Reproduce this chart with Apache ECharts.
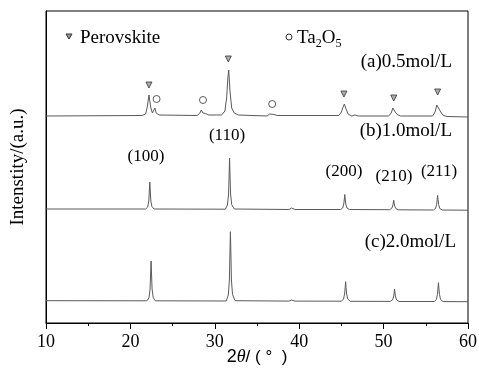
<!DOCTYPE html>
<html>
<head>
<meta charset="utf-8">
<script src="https://cdn.jsdelivr.net/npm/echarts@6/dist/echarts.min.js"></script>
<style>
  html, body { margin: 0; padding: 0; background: #fff; }
  #chart { width: 479px; height: 373px; }
</style>
</head>
<body>
<div id="chart"></div>
<script>
// XRD traces, [2theta, intensity] — intensity in arbitrary units, offset per sample
const trace05 = [
  [10, 207], [21.4, 207.5], [21.8, 209], [22.0, 216], [22.2, 228], [22.4, 216], [22.6, 210],
  [22.75, 212], [22.9, 215], [23.05, 210], [23.4, 208], [27.9, 207.5], [28.2, 209.5], [28.4, 213],
  [28.6, 210], [28.9, 209.5], [29.3, 208], [30.8, 208], [31.2, 212], [31.4, 225], [31.55, 245],
  [31.65, 253], [31.8, 232], [32.0, 215], [32.3, 210], [32.8, 208], [36.2, 207], [36.5, 209],
  [36.7, 211], [37.0, 208.5], [37.4, 207.5], [44.7, 207.5], [45.0, 211], [45.2, 216], [45.35, 219],
  [45.55, 214], [45.8, 209], [46.2, 207], [46.6, 208], [47.0, 207], [50.6, 207], [50.9, 210],
  [51.1, 215], [51.3, 212], [51.6, 208.5], [52.0, 207], [55.8, 207], [56.1, 211], [56.3, 218],
  [56.45, 219], [56.7, 212], [57.0, 208], [57.5, 206.5], [60, 206]
];
const trace10 = [
  [10, 114], [21.8, 114], [22.05, 116], [22.18, 122], [22.25, 133], [22.3, 141], [22.35, 133],
  [22.42, 122], [22.55, 116.5], [22.8, 114], [31.25, 113.8], [31.5, 118], [31.63, 129], [31.7, 149],
  [31.75, 165], [31.8, 149], [31.87, 129], [32.0, 118.5], [32.3, 114], [38.8, 113.5], [39.1, 115],
  [39.25, 115.5], [39.5, 113.5], [44.9, 113.5], [45.15, 115], [45.28, 119], [45.35, 124],
  [45.4, 128.5], [45.45, 124], [45.52, 119], [45.65, 115], [45.95, 113.5], [50.7, 113.3],
  [50.95, 114.5], [51.08, 117], [51.15, 120], [51.2, 122.8], [51.25, 120], [51.32, 117],
  [51.45, 114.5], [51.75, 113.2], [55.9, 113], [56.15, 114.5], [56.28, 118.5], [56.35, 123.5],
  [56.4, 127.7], [56.45, 123.5], [56.52, 118.5], [56.65, 114.5], [56.95, 113], [60, 112.8]
];
const trace20 = [
  [10, 22.3], [21.95, 22.2], [22.2, 25], [22.33, 34], [22.4, 50], [22.45, 62], [22.5, 50],
  [22.57, 34], [22.7, 25.5], [22.95, 22.2], [31.35, 22], [31.6, 28], [31.73, 43], [31.8, 72],
  [31.85, 91.3], [31.9, 72], [31.97, 43], [32.1, 28.5], [32.4, 22.3], [38.8, 21.9], [39.1, 23],
  [39.25, 23.5], [39.5, 21.9], [45.0, 21.8], [45.25, 24], [45.38, 29], [45.45, 35.5], [45.5, 41.3],
  [45.55, 35.5], [45.62, 29], [45.75, 24], [46.05, 21.7], [50.8, 21.6], [51.05, 23], [51.18, 26],
  [51.25, 30], [51.3, 34], [51.35, 30], [51.42, 26], [51.55, 23], [51.85, 21.5], [56.0, 21.5],
  [56.25, 23.5], [56.38, 28.5], [56.45, 35], [56.5, 40.3], [56.55, 35], [56.62, 28.5],
  [56.75, 23.5], [57.05, 21.4], [60, 21.3]
];

// phase markers above trace (a)
const perovskiteMarks = [[22.2, 238], [31.6, 264], [45.3, 229], [51.2, 225], [56.4, 231]];
const ta2o5Marks = [[23.1, 224], [28.6, 223], [36.8, 219]];

const xTicks = [10, 20, 30, 40, 50, 60];

const serif = 'Liberation Serif';
const chart = echarts.init(document.getElementById('chart'), null, { renderer: 'canvas' });

const lineStyle = { color: '#5a5a5a', width: 1 };

chart.setOption({
  animation: false,
  backgroundColor: '#fff',
  grid: {
    left: 46, right: 11, top: 11, bottom: 50, outerBoundsMode: 'none',
    show: true, borderColor: '#000', borderWidth: 1
  },
  xAxis: {
    type: 'value',
    min: xTicks[0],
    max: xTicks[xTicks.length - 1],
    interval: 10,
    name: '{n|2}{t|θ}{s|/ ( °  )}',
    nameLocation: 'middle',
    nameMoveOverlap: false,
    nameGap: 25,
    nameTextStyle: {
      rich: {
        n: { fontFamily: 'Liberation Sans', fontSize: 18, color: '#000' },
        t: { fontFamily: serif, fontStyle: 'italic', fontSize: 18, color: '#000' },
        s: { fontFamily: 'Liberation Sans', fontSize: 17, color: '#000' }
      }
    },
    axisLine: { lineStyle: { color: '#000', width: 1 } },
    axisTick: { inside: false, length: 6, lineStyle: { color: '#000' } },
    minorTick: { show: true, splitNumber: 2, length: 3, lineStyle: { color: '#000' } },
    axisLabel: { margin: 10, fontFamily: serif, fontSize: 18, color: '#000' },
    splitLine: { show: false }
  },
  yAxis: {
    type: 'value',
    min: 0,
    max: 312,
    name: 'Intenstity/(a.u.)',
    nameLocation: 'middle',
    nameMoveOverlap: false,
    nameGap: 18,
    nameTextStyle: { fontFamily: serif, fontSize: 19, color: '#000' },
    axisLine: { show: true, lineStyle: { color: '#000' } },
    axisTick: { show: false },
    axisLabel: { show: false },
    splitLine: { show: false }
  },
  series: [
    { type: 'line', data: trace05, showSymbol: false, lineStyle },
    { type: 'line', data: trace10, showSymbol: false, lineStyle },
    { type: 'line', data: trace20, showSymbol: false, lineStyle },
    {
      type: 'scatter', data: perovskiteMarks, symbol: 'triangle', symbolRotate: 180, symbolSize: 6,
      itemStyle: { color: '#999', borderColor: '#333', borderWidth: 1 }
    },
    {
      type: 'scatter', data: ta2o5Marks, symbol: 'circle', symbolSize: 7,
      itemStyle: { color: '#fff', borderColor: '#333', borderWidth: 1 }
    }
  ],
  graphic: [
    { type: 'polygon', shape: { points: [[66, 34], [72, 34], [69, 39]] },
      style: { fill: '#999', stroke: '#333', lineWidth: 1 } },
    { type: 'text', x: 80, y: 38,
      style: { text: 'Perovskite', font: '19px "Liberation Serif"', fill: '#000', verticalAlign: 'middle' } },
    { type: 'circle', shape: { cx: 289, cy: 37, r: 3 },
      style: { fill: '#fff', stroke: '#333', lineWidth: 1 } },
    { type: 'text', x: 297, y: 38,
      style: {
        text: '{m|Ta}{b|2}{m|O}{b|5}', verticalAlign: 'middle',
        rich: {
          m: { fontFamily: serif, fontSize: 19, color: '#000' },
          b: { fontFamily: serif, fontSize: 12, color: '#000', padding: [12, 0, 0, 0] }
        }
      } },
    { type: 'text', x: 452, y: 62,
      style: { text: '(a)0.5mol/L', font: '19px "Liberation Serif"', fill: '#000', align: 'right', verticalAlign: 'middle' } },
    { type: 'text', x: 452, y: 131,
      style: { text: '(b)1.0mol/L', font: '19px "Liberation Serif"', fill: '#000', align: 'right', verticalAlign: 'middle' } },
    { type: 'text', x: 456, y: 242,
      style: { text: '(c)2.0mol/L', font: '19px "Liberation Serif"', fill: '#000', align: 'right', verticalAlign: 'middle' } },
    { type: 'text', x: 146, y: 157,
      style: { text: '(100)', font: '17px "Liberation Serif"', fill: '#000', align: 'center', verticalAlign: 'middle' } },
    { type: 'text', x: 227, y: 136,
      style: { text: '(110)', font: '17px "Liberation Serif"', fill: '#000', align: 'center', verticalAlign: 'middle' } },
    { type: 'text', x: 344, y: 172,
      style: { text: '(200)', font: '17px "Liberation Serif"', fill: '#000', align: 'center', verticalAlign: 'middle' } },
    { type: 'text', x: 394, y: 177,
      style: { text: '(210)', font: '17px "Liberation Serif"', fill: '#000', align: 'center', verticalAlign: 'middle' } },
    { type: 'text', x: 439, y: 172,
      style: { text: '(211)', font: '17px "Liberation Serif"', fill: '#000', align: 'center', verticalAlign: 'middle' } }
  ]
});
</script>
</body>
</html>
